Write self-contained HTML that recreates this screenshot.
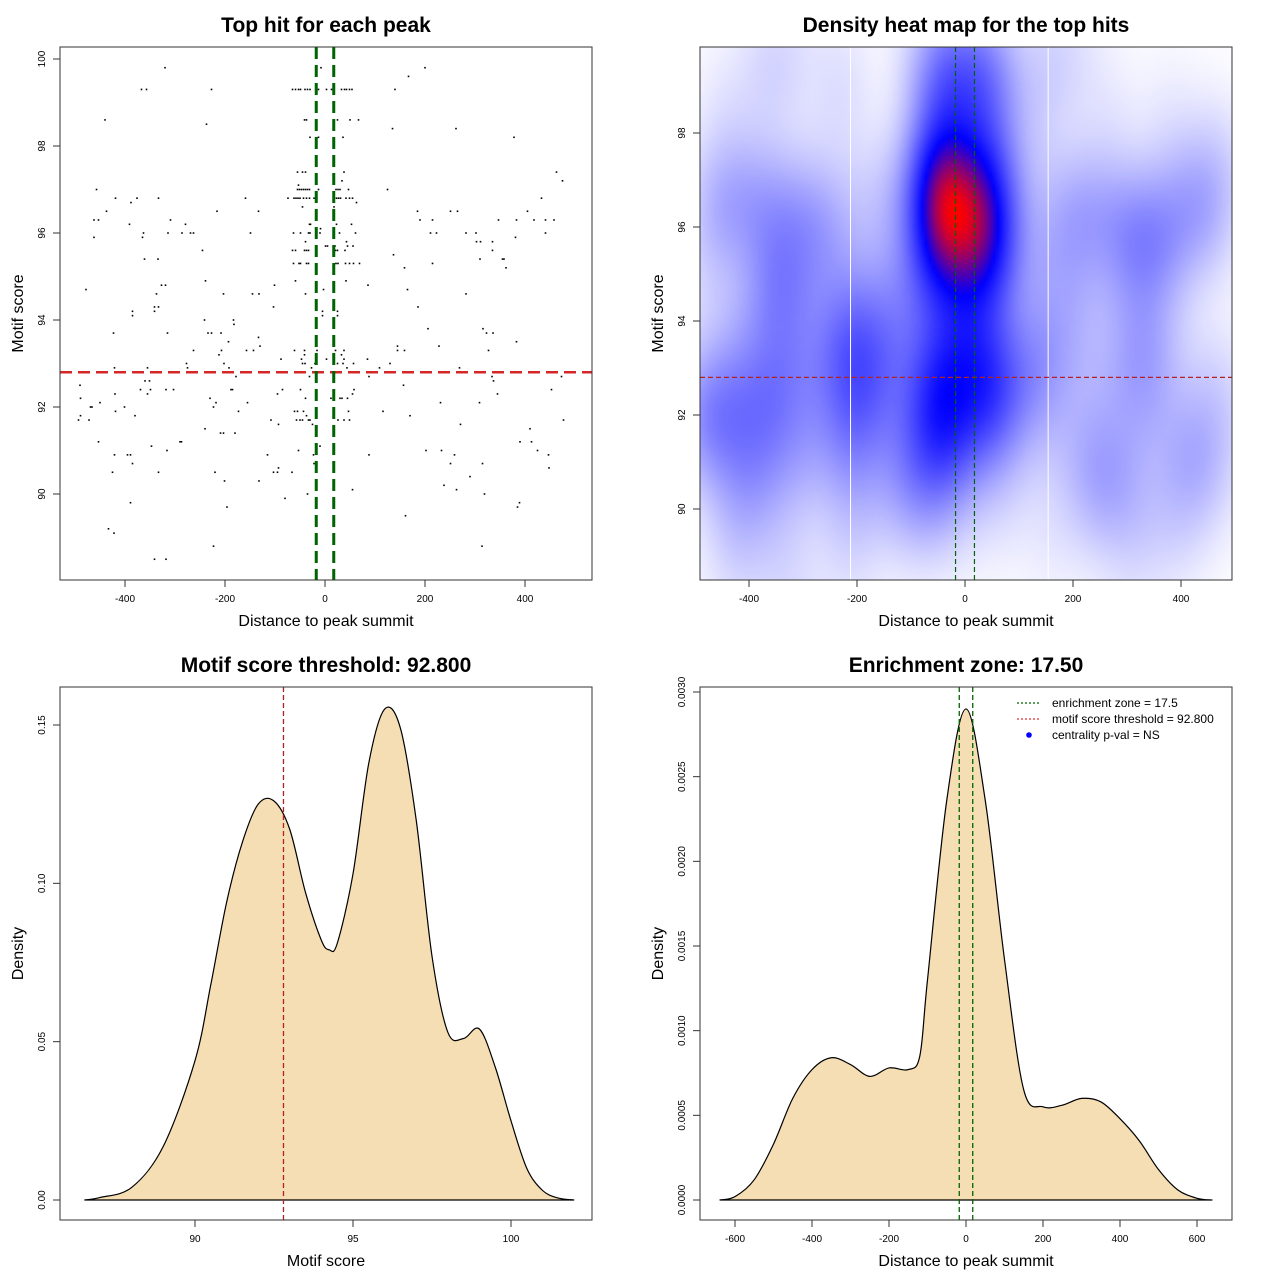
<!DOCTYPE html>
<html><head><meta charset="utf-8">
<style>
html,body{margin:0;padding:0;background:#fff;}
#wrap{position:relative;width:1280px;height:1280px;overflow:hidden;font-family:"Liberation Sans",sans-serif;}
#heat{position:absolute;left:700px;top:47px;width:532px;height:533px;}
#svg{position:absolute;left:0;top:0;}
text{font-family:"Liberation Sans",sans-serif;fill:#000;}
</style></head>
<body>
<div id="wrap">
<canvas id="heat" width="532" height="533"></canvas>
<svg id="svg" width="1280" height="1280" xmlns="http://www.w3.org/2000/svg"></svg>
</div>
<script>
// ---------- data ----------
const topHits = [
[-320,99.8],[200,99.8],[167,99.6],[-367,99.3],[-357,99.3],[-227,99.3],[140,99.3],[-440,98.6],[-237,98.5],[135,98.4],[262,98.4],[378,98.2],[463,97.4],[475,97.2],[-457,97.0],[125,97.0],[-419,96.8],[-388,96.7],[-376,96.8],[-333,96.8],[-159,96.8],[433,96.8],[-437,96.5],[-216,96.5],[-133,96.5],[185,96.5],[251,96.5],[265,96.5],[405,96.5],
[-462,96.3],[-453,96.3],[-309,96.3],[190,96.3],[215,96.3],[347,96.3],[383,96.3],[418,96.3],[441,96.3],[458,96.3],[-391,96.2],[-279,96.2],
[-363,96.0],[-314,96.0],[-286,96.0],[-269,96.0],[-263,96.0],[-149,96.0],[211,96.0],[223,96.0],[282,96.0],[302,96.0],[441,96.0],[-462,95.9],[-365,95.9],[381,95.9],
[303,95.8],[311,95.8],[335,95.8],[-245,95.6],[335,95.6],[137,95.5],[-361,95.4],[-334,95.4],[310,95.4],[355,95.4],[358,95.4],[215,95.3],[159,95.2],[362,95.2],
[-239,94.9],[-327,94.8],[-319,94.8],[-101,94.8],[86,94.8],[-478,94.7],[165,94.7],[-203,94.6],[-132,94.6],[282,94.6],[-337,94.6],[-145,94.6],[-333,94.3],[-103,94.3],[-341,94.3],[186,94.3],[-385,94.2],
[-385,94.1],[-341,94.2],[-241,94.0],[-183,94.0],[-182,93.9],[-423,93.7],[-315,93.7],[-234,93.7],[-227,93.7],[-208,93.7],[206,93.8],[316,93.8],[323,93.7],[336,93.7],[-133,93.6],[-193,93.5],[383,93.5],
[-263,93.3],[-207,93.3],[-157,93.3],[-143,93.3],[-130,93.4],[145,93.4],[228,93.4],[145,93.3],[159,93.3],[327,93.3],[-212,93.2],[-88,93.1],[85,93.1],[-277,93.0],[-202,93.0],[130,93.0],
[-421,92.9],[-355,92.9],[-275,92.9],[-192,92.9],[109,92.9],[269,92.9],[-437,92.8],[95,92.8],[-178,92.7],[88,92.7],[334,92.7],[473,92.7],[-360,92.6],[-351,92.6],[337,92.6],[-490,92.5],[157,92.5],
[-369,92.4],[-349,92.4],[-318,92.4],[-303,92.4],[-188,92.4],[-185,92.4],[-85,92.4],[453,92.4],[-420,92.3],[-355,92.3],[-95,92.3],[345,92.3],[-489,92.2],[-230,92.2],[-450,92.1],[-218,92.1],[-155,92.1],[231,92.1],[309,92.1],
[-469,92.0],[-466,92.0],[-401,92.0],[-223,92.0],[-419,91.9],[-173,91.9],[116,91.9],[-489,91.8],[-380,91.8],[170,91.8],[-493,91.7],[-472,91.7],[-108,91.7],[477,91.7],[-93,91.6],[271,91.6],[-240,91.5],[410,91.5],
[-209,91.4],[-203,91.4],[-180,91.4],[-453,91.2],[-290,91.2],[-287,91.2],[390,91.2],[413,91.2],[-347,91.1],[-316,91.0],[-53,91.0],[202,91.0],[233,91.0],[425,91.0],[-421,90.9],[-395,90.9],[-389,90.9],[-115,90.9],[88,90.9],[259,90.9],[447,90.9],
[-385,90.7],[251,90.7],[315,90.7],[-93,90.6],[448,90.6],[-425,90.5],[-333,90.5],[-220,90.5],[-103,90.5],[-95,90.5],[-66,90.5],[290,90.4],[-201,90.3],[-132,90.3],[55,90.1],[238,90.2],[263,90.1],[-35,90.0],[319,90.0],[-80,89.9],
[-389,89.8],[389,89.8],[385,89.7],[-196,89.7],[161,89.5],[-433,89.2],[-422,89.1],[-223,88.8],[314,88.8],[-341,88.5],[-318,88.5],
[-8,99.8],[-65,99.3],[-59,99.3],[-53,99.3],[-49,99.3],[-40,99.3],[-35,99.3],[-30,99.3],[-13,99.3],[3,99.3],[13,99.3],[18,99.3],[33,99.3],[39,99.3],[43,99.3],[49,99.3],[54,99.3],
[-41,98.6],[-37,98.6],[25,98.6],[50,98.6],[67,98.6],[-30,98.2],[-13,98.2],[36,98.2],[-55,97.4],[-45,97.4],[-39,97.4],[38,97.4],[34,97.2],[-53,97.1],
[-55,97.0],[-51,97.0],[-47,97.0],[-43,97.0],[-39,97.0],[-35,97.0],[-31,97.0],[-13,97.0],[22,97.0],[26,97.0],[30,97.0],[47,97.0],
[-74,96.8],[-62,96.8],[-58,96.8],[-54,96.8],[-50,96.8],[-43,96.8],[-37,96.8],[-31,96.8],[-22,96.8],[23,96.8],[27,96.8],[31,96.8],[42,96.8],[49,96.8],[55,96.8],[63,96.7],[-45,96.6],[18,96.6],
[-31,96.2],[-29,96.2],[23,96.2],[53,96.2],[-9,96.1],[-63,96.0],[-49,96.0],[-33,96.0],[-30,96.0],[-10,96.0],[29,96.0],[61,96.0],[-39,95.8],[43,95.8],[1,95.7],[5,95.7],[20,95.7],[45,95.7],[56,95.7],
[-65,95.6],[-59,95.6],[-41,95.6],[-37,95.6],[-33,95.6],[17,95.6],[21,95.6],[25,95.6],[40,95.6],
[-63,95.3],[-52,95.3],[-49,95.3],[-37,95.3],[-33,95.3],[22,95.3],[26,95.3],[41,95.3],[49,95.3],[57,95.3],[69,95.3],
[-59,94.9],[42,94.9],[-3,94.7],[-39,94.6],[-5,94.2],[25,94.2],[-5,94.1],[25,94.1],
[-61,93.3],[-41,93.3],[-16,93.3],[21,93.3],[38,93.3],[-41,93.2],[33,93.2],[-47,93.1],[3,93.1],[38,93.1],
[-45,93.0],[-40,93.0],[-20,93.0],[25,93.0],[36,93.0],[57,93.0],[-27,92.9],[44,92.9],[-31,92.7],[-49,92.4],[58,92.4],[55,92.3],
[-39,92.2],[12,92.2],[30,92.2],[34,92.2],[45,92.2],[-61,91.9],[-55,91.9],[-43,91.9],[47,91.9],[-37,91.8],
[-57,91.7],[-50,91.7],[-45,91.7],[-33,91.7],[-30,91.7],[26,91.7],[38,91.7],[49,91.7],[-25,91.6],[-10,91.1],[-23,90.9],[-22,90.7]
];
const scoreThreshold = 92.8;
const enrichmentZone = 17.5;
const whiteLinesX = [-212, 154];

const scoreX =   [86.5, 87, 88, 89, 90, 90.5, 91, 91.5, 92, 92.5, 93, 93.5, 94, 94.25, 94.5, 95, 95.5, 96, 96.5, 97, 97.5, 98, 98.5, 99, 99.5, 100, 100.5, 101, 101.5, 102];
const scoreDen = [0, 0.0008, 0.004, 0.017, 0.044, 0.068, 0.094, 0.113, 0.125, 0.126, 0.117, 0.097, 0.082, 0.079, 0.081, 0.103, 0.138, 0.155, 0.149, 0.12, 0.077, 0.053, 0.051, 0.054, 0.042, 0.025, 0.01, 0.003, 0.0006, 0];
const distX =   [-640, -600, -550, -500, -450, -400, -350, -300, -250, -200, -150, -120, -100, -50, 0, 50, 100, 150, 200, 250, 300, 350, 400, 450, 500, 550, 600, 640];
const distDen = [0, 0.00002, 0.00012, 0.00033, 0.0006, 0.00077, 0.00084, 0.0008, 0.00073, 0.00078, 0.00077, 0.00085, 0.0013, 0.00236, 0.0029, 0.00236, 0.00142, 0.00065, 0.00055, 0.00056, 0.0006, 0.00058, 0.00048, 0.00035, 0.00018, 0.00006, 0.00001, 0];

const p1XTicks = [-400,-200,0,200,400], p1YTicks = [90,92,94,96,98,100];
const p2XTicks = [-400,-200,0,200,400], p2YTicks = [90,92,94,96,98];
const p3XTicks = [90,95,100], p3YTicks = [0,0.05,0.10,0.15], p3YLabels = ["0.00","0.05","0.10","0.15"];
const p4XTicks = [-600,-400,-200,0,200,400,600], p4YTicks = [0,0.0005,0.001,0.0015,0.002,0.0025,0.003];
const p4YLabels = ["0.0000","0.0005","0.0010","0.0015","0.0020","0.0025","0.0030"];

// ---------- helpers ----------
const NS = "http://www.w3.org/2000/svg";
const svg = document.getElementById('svg');
function el(tag, attrs, parent, txt){
  const e = document.createElementNS(NS, tag);
  for (const k in attrs) e.setAttribute(k, attrs[k]);
  if (txt !== undefined) e.textContent = txt;
  (parent || svg).appendChild(e);
  return e;
}
function lin(d0,d1,r0,r1){ return v => r0 + (v-d0)*(r1-r0)/(d1-d0); }
function fmt(v){ return String(v); }

function axes(g, box, sx, sy, xt, yt, xl, yl, title, xtitle, ytitle){
  const frame = el('rect',{x:box.x,y:box.y,width:box.w,height:box.h,fill:'none',stroke:'#333','stroke-width':1},g);
  
  
  const xa = el('g',{},g);
  
  
  const by = box.y+box.h;
  el('line',{x1:sx(xt[0]),x2:sx(xt[xt.length-1]),y1:by,y2:by,stroke:'#333'},xa);
  xt.forEach((v,i)=>{
    const x = sx(v);
    el('line',{x1:x,x2:x,y1:by,y2:by+7,stroke:'#333'},xa);
    const t = el('text',{x:x,y:by+22,'font-size':10,'text-anchor':'middle'},xa,xl?xl[i]:fmt(v));
    
    
  });
  const ya = el('g',{},g);
  
  
  el('line',{x1:box.x,x2:box.x,y1:sy(yt[0]),y2:sy(yt[yt.length-1]),stroke:'#333'},ya);
  yt.forEach((v,i)=>{
    const y = sy(v);
    el('line',{x1:box.x-7,x2:box.x,y1:y,y2:y,stroke:'#333'},ya);
    const t = el('text',{x:box.x-15,y:y,'font-size':10,'text-anchor':'middle',transform:`rotate(-90 ${box.x-15} ${y})`},ya,yl?yl[i]:fmt(v));
    
    
  });
  const tt = el('text',{x:box.x+box.w/2,y:box.y-15,'font-size':21,'font-weight':'bold','text-anchor':'middle'},g,title);
  
  
  const xtt = el('text',{x:box.x+box.w/2,y:by+46,'font-size':16,'text-anchor':'middle'},g,xtitle);
  
  
  const cx = box.x-37, cy = box.y+box.h/2;
  const ytt = el('text',{x:cx,y:cy,'font-size':16,'text-anchor':'middle',transform:`rotate(-90 ${cx} ${cy})`},g,ytitle);
  
  
}
function smoothPath(pts){
  let d = `M${pts[0][0]},${pts[0][1]}`;
  for (let i=0;i<pts.length-1;i++){
    const p0=pts[Math.max(0,i-1)],p1=pts[i],p2=pts[i+1],p3=pts[Math.min(pts.length-1,i+2)];
    const c1x=p1[0]+(p2[0]-p0[0])/6, c1y=p1[1]+(p2[1]-p0[1])/6;
    const c2x=p2[0]-(p3[0]-p1[0])/6, c2y=p2[1]-(p3[1]-p1[1])/6;
    d += ` C${c1x},${c1y} ${c2x},${c2y} ${p2[0]},${p2[1]}`;
  }
  return d;
}

// ---------- panel 1: scatter ----------
{
  const box={x:60,y:47,w:532,h:533};
  const sx=lin(0,400,325,525), sy=lin(90,100,494,59);
  const g=el('g',{});
  
  
  const pts=el('g',{},g);
  
  
  topHits.forEach(p=>{
    const c=el('rect',{x:sx(p[0])-0.8,y:sy(p[1])-0.8,width:1.6,height:1.6,fill:'#000'},pts);
    
    
  });
  const h=el('line',{x1:box.x,x2:box.x+box.w,y1:sy(scoreThreshold),y2:sy(scoreThreshold),stroke:'#d62728','stroke-width':2.5,'stroke-dasharray':'12,6'},g);
  
  
  [-enrichmentZone,enrichmentZone].forEach(v=>{
    const l=el('line',{x1:sx(v),x2:sx(v),y1:box.y,y2:box.y+box.h,stroke:'#006400','stroke-width':3,'stroke-dasharray':'12,6'},g);
    
    
  });
  axes(g,box,sx,sy,p1XTicks,p1YTicks,null,null,'Top hit for each peak','Distance to peak summit','Motif score');
}

// ---------- panel 2: heat map ----------
{
  const box={x:700,y:47,w:532,h:533};
  const sx=lin(0,400,965,1181), sy=lin(90,98,509,133);
  const cv=document.getElementById('heat'); const ctx=cv.getContext('2d');
  const GW=133, GH=134, hx=42, hy=1.0;
  const grid=new Float32Array(GW*GH); let mx=0;
  for(let j=0;j<GH;j++){
    const py=box.y+(j+0.5)*box.h/GH; const vy=90+(509-py)/47;
    for(let i=0;i<GW;i++){
      const px=box.x+(i+0.5)*box.w/GW; const vx=(px-965)*400/216;
      let s=0;
      for(const p of topHits){const dx=(vx-p[0])/hx, dy=(vy-p[1])/hy; s+=Math.exp(-0.5*(dx*dx+dy*dy));}
      grid[j*GW+i]=s; if(s>mx)mx=s;
    }
  }
  const small=document.createElement('canvas'); small.width=GW; small.height=GH;
  const sctx=small.getContext('2d'); const img=sctx.createImageData(GW,GH);
  for(let k=0;k<GW*GH;k++){
    const t=grid[k]/mx;
    let r,gg,b;
    const B=0.62;
    if(t<B){const u=Math.pow(t/B,0.8); r=255*(1-u); gg=255*(1-u); b=255;}
    else {const u=(t-B)/(1-B); r=255*u; gg=0; b=255*(1-u);}
    img.data[k*4]=r; img.data[k*4+1]=gg; img.data[k*4+2]=b; img.data[k*4+3]=255;
  }
  sctx.putImageData(img,0,0);
  ctx.imageSmoothingEnabled=true; ctx.drawImage(small,0,0,532,533);
  const g=el('g',{});
  
  
  whiteLinesX.forEach(v=>{
    const l=el('line',{x1:sx(v),x2:sx(v),y1:box.y,y2:box.y+box.h,stroke:'#fff','stroke-width':1},g);
    
    
  });
  const h=el('line',{x1:box.x,x2:box.x+box.w,y1:sy(scoreThreshold),y2:sy(scoreThreshold),stroke:'#b22222','stroke-width':1.2,'stroke-dasharray':'5,3'},g);
  
  
  [-enrichmentZone,enrichmentZone].forEach(v=>{
    const l=el('line',{x1:sx(v),x2:sx(v),y1:box.y,y2:box.y+box.h,stroke:'#006400','stroke-width':1.2,'stroke-dasharray':'5,3'},g);
    
    
  });
  axes(g,box,sx,sy,p2XTicks,p2YTicks,null,null,'Density heat map for the top hits','Distance to peak summit','Motif score');
}

// ---------- panel 3: motif score density ----------
{
  const box={x:60,y:687,w:532,h:533};
  const sx=lin(90,100,195,511), sy=lin(0,0.15,1200,725);
  const g=el('g',{});
  
  
  const pts=scoreX.map((v,i)=>[sx(v),sy(scoreDen[i])]);
  const a=el('path',{d:smoothPath(pts)+' Z',fill:'#F5DEB3',stroke:'#000','stroke-width':1.2},g);
  
  
  const l=el('line',{x1:sx(scoreThreshold),x2:sx(scoreThreshold),y1:box.y,y2:box.y+box.h,stroke:'#b22222','stroke-width':1.3,'stroke-dasharray':'5,3'},g);
  
  
  axes(g,box,sx,sy,p3XTicks,p3YTicks,null,p3YLabels,'Motif score threshold: 92.800','Motif score','Density');
}

// ---------- panel 4: distance density ----------
{
  const box={x:700,y:687,w:532,h:533};
  const sx=lin(0,600,966,1197), sy=lin(0,0.003,1200,692);
  const g=el('g',{});
  
  
  const pts=distX.map((v,i)=>[sx(v),sy(distDen[i])]);
  const a=el('path',{d:smoothPath(pts)+' Z',fill:'#F5DEB3',stroke:'#000','stroke-width':1.2},g);
  
  
  [-enrichmentZone,enrichmentZone].forEach(v=>{
    const l=el('line',{x1:sx(v),x2:sx(v),y1:box.y,y2:box.y+box.h,stroke:'#006400','stroke-width':1.3,'stroke-dasharray':'5,3'},g);
    
    
  });
  axes(g,box,sx,sy,p4XTicks,p4YTicks,null,p4YLabels,'Enrichment zone: 17.50','Distance to peak summit','Density');
  const lg=el('g',{},g);
  
  
  const items=[['#006400','line','enrichment zone = 17.5'],['#e03030','line','motif score threshold = 92.800'],['#0000ff','dot','centrality p-val = NS']];
  items.forEach((it,i)=>{
    const y=703+i*16;
    const e=el('g',{},lg);
    
    
    if(it[1]==='line') el('line',{x1:1017,x2:1041,y1:y,y2:y,stroke:it[0],'stroke-width':1.2,'stroke-dasharray':'2,2'},e);
    else el('circle',{cx:1029,cy:y,r:2.8,fill:it[0]},e);
    el('text',{x:1052,y:y+4,'font-size':12},e,it[2]);
  });
}
</script>
</body></html>
